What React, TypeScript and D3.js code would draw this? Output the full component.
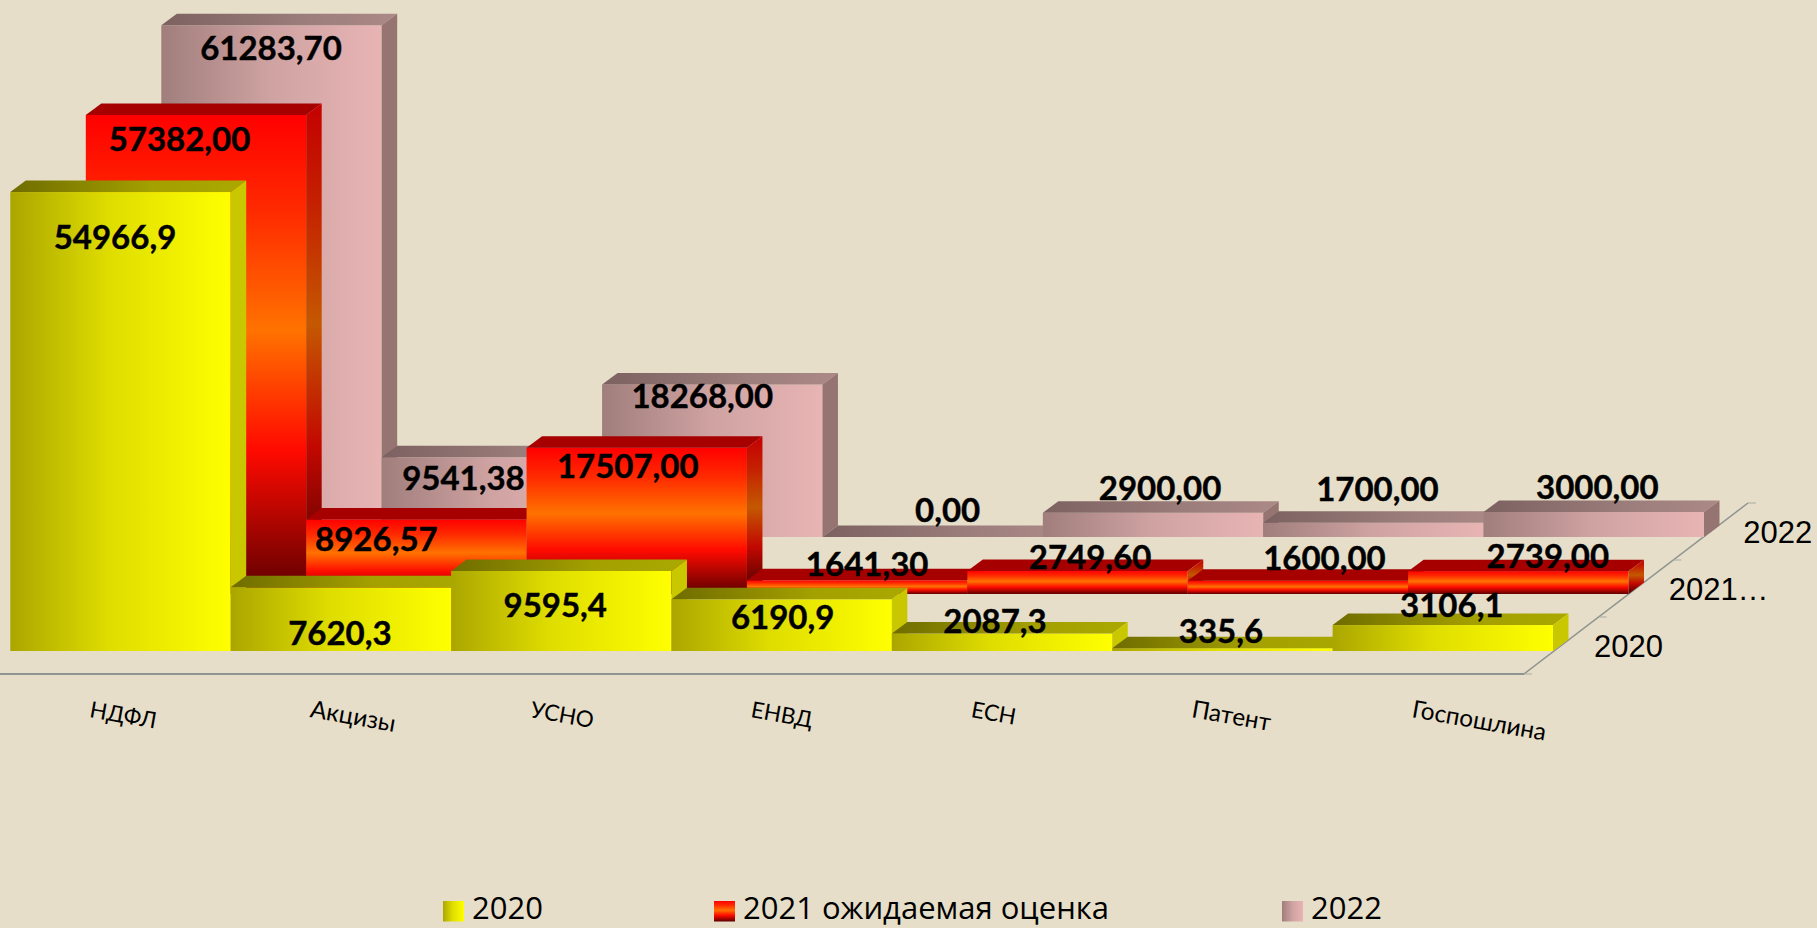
import React from 'react';
import * as d3 from 'd3';

const categories = ['НДФЛ', 'Акцизы', 'УСНО', 'ЕНВД', 'ЕСН', 'Патент', 'Госпошлина'];
const seriesNames = ['2020', '2021 ожидаемая оценка', '2022'];
const depthLabels = ['2020', '2021…', '2022'];

const values2020 = [54966.9, 7620.3, 9595.4, 6190.9, 2087.3, 335.6, 3106.1];
const values2021 = [57382, 8926.57, 17507, 1641.3, 2749.6, 1600, 2739];
const values2022 = [61283.7, 9541.38, 18268, 0, 2900, 1700, 3000];

const text2020 = ['54966,9', '7620,3', '9595,4', '6190,9', '2087,3', '335,6', '3106,1'];
const text2021 = ['57382,00', '8926,57', '17507,00', '1641,30', '2749,60', '1600,00', '2739,00'];
const text2022 = ['61283,70', '9541,38', '18268,00', '0,00', '2900,00', '1700,00', '3000,00'];

// hand placed data labels, excel puts them wherever it likes in 3d
const labelDx = [
  [-5.5, -1, -6, 1, -7, -1.5, 9],
  [-16.5, -40, -9, 10, 12.5, 26.5, 29.5],
  [-0.5, -28.4, -10, 15, 7, 4, 3.5],
];
const labelDy = [
  [57, 57.6, 46, 29.7, -1, -5, -7.6],
  [36, 32, 30, -3.8, -2, -10.6, -3],
  [35, 33, 23.5, -15, -13, -22, -13],
];

const W = 1817;
const H = 928;
const bg = '#e6dec8';
const axisColor = '#8f9391';
const calibri = 'Lato, Carlito, sans-serif';
const arial = '"Liberation Sans", Arial, sans-serif';

const x = d3.scaleBand<string>().domain(categories).range([10.3, 1553]);
const h = d3.scaleLinear().domain([0, 61283.7]).range([0, 511.7]);
const rowX = d3.scaleLinear().domain([0, 2]).range([0, 151]);
const rowBase = d3.scaleLinear().domain([0, 1, 2]).range([651, 594, 537]);
const axisX = d3.scaleLinear().domain([0, 3]).range([1524, 1748]);
const axisY = d3.scaleLinear().domain([0, 3]).range([674, 503]);

const DX = 15.5;
const DY = 11.5;

const rows = [
  { values: values2020, text: text2020, front: 'yFront', top: 'yTop', side: '#c9c800' },
  { values: values2021, text: text2021, front: 'rFront', top: '#a70000', side: 'rSide' },
  { values: values2022, text: text2022, front: 'pFront', top: 'pTop', side: '#967472' },
];

const paint = (c: string) => (c.startsWith('#') ? c : `url(#${c})`);

const poly = (pts: number[][]) => {
  const p = d3.path();
  pts.forEach(([a, b], i) => (i ? p.lineTo(a, b) : p.moveTo(a, b)));
  p.closePath();
  return p.toString();
};

const Hgrad = ({ id, stops }: { id: string; stops: [number, string][] }) => (
  <linearGradient id={id} x1="0" y1="0" x2="1" y2="0">
    {stops.map(([o, c]) => <stop key={o} offset={o} stopColor={c} />)}
  </linearGradient>
);

const Vgrad = ({ id, stops }: { id: string; stops: [number, string][] }) => (
  <linearGradient id={id} x1="0" y1="0" x2="0" y2="1">
    {stops.map(([o, c]) => <stop key={o} offset={o} stopColor={c} />)}
  </linearGradient>
);

const Bar = ({ row, i }: { row: number; i: number }) => {
  const r = rows[row];
  const x0 = x(categories[i])! + rowX(row);
  const x1 = x0 + x.bandwidth();
  const base = rowBase(row);
  const top = base - h(r.values[i]);
  return (
    <g>
      {r.values[i] > 0 && <rect x={x0} y={top} width={x1 - x0} height={base - top} fill={paint(r.front)} />}
      <path d={poly([[x0, top], [x0 + DX, top - DY], [x1 + DX, top - DY], [x1, top]])} fill={paint(r.top)} />
      <path d={poly([[x1, top], [x1 + DX, top - DY], [x1 + DX, base - DY], [x1, base]])} fill={paint(r.side)} />
    </g>
  );
};

export default function App() {
  return (
    <svg width={W} height={H} style={{ position: 'absolute', left: 0, top: 0, display: 'block', background: bg }}>
      <defs>
        <Hgrad id="yFront" stops={[[0, '#aba600'], [0.45, '#dfdd00'], [1, '#ffff00']]} />
        <Hgrad id="yTop" stops={[[0, '#6f6c00'], [0.6, '#a3a000'], [1, '#aaa800']]} />
        <Vgrad id="rFront" stops={[[0, '#ff0000'], [0.2, '#ff2a00'], [0.45, '#ff7200'], [0.7, '#ff0a00'], [1, '#5c0000']]} />
        <Vgrad id="rSide" stops={[[0, '#c40000'], [0.2, '#c42000'], [0.45, '#c45800'], [0.7, '#c20800'], [1, '#450000']]} />
        <Hgrad id="pFront" stops={[[0, '#a07e7c'], [0.5, '#cfa3a2'], [1, '#e8b4b4']]} />
        <Hgrad id="pTop" stops={[[0, '#7b6160'], [0.6, '#9b7d7b'], [1, '#ab8987']]} />
      </defs>

      {/* depth axis */}
      <line x1={0} x2={axisX(0)} y1={axisY(0)} y2={axisY(0)} stroke={axisColor} strokeWidth={2} />
      <line x1={axisX(0)} x2={axisX(3)} y1={axisY(0)} y2={axisY(3)} stroke={axisColor} strokeWidth={1.5} />
      {[0, 1, 2, 3].map((t) => (
        <line key={t} x1={axisX(t)} x2={axisX(t) + 8} y1={axisY(t)} y2={axisY(t)} stroke="#a9aba6" strokeWidth={1} />
      ))}

      {[2, 1, 0].map((row) => (
        <g key={row}>
          {categories.map((c, i) => <Bar key={c} row={row} i={i} />)}
        </g>
      ))}

      {[2, 1, 0].map((row) =>
        rows[row].text.map((t, i) => (
          <text
            key={row + t}
            x={x(categories[i])! + x.bandwidth() / 2 + rowX(row) + labelDx[row][i]}
            y={rowBase(row) - h(rows[row].values[i]) + labelDy[row][i]}
            textAnchor="middle"
            fontFamily={calibri}
            fontWeight={700}
            fontSize={33}
            fill="#000"
            stroke="#000"
            strokeWidth={0.4}
          >
            {t}
          </text>
        )),
      )}

      {categories.map((c) => (
        <text
          key={c}
          transform={`translate(${x(c)! + 78.5},717) rotate(10)`}
          fontFamily={calibri}
          fontSize={c === c.toUpperCase() ? 22.5 : 24.3}
          fill="#000"
        >
          {c}
        </text>
      ))}

      {depthLabels.map((t, i) => (
        <text
          key={t}
          x={axisX(i) + 70}
          y={axisY(i) - 17}
          fontFamily={arial}
          fontSize={31}
          fill="#000"
        >
          {t}
        </text>
      ))}

      {seriesNames.map((s, i) => {
        const lx = [443, 714, 1282][i];
        return (
          <g key={s}>
            <rect x={lx} y={901} width={21} height={20.5} fill={`url(#${['yFront', 'rFront', 'pFront'][i]})`} />
            <text x={lx + 29} y={918.8} fontFamily='"Open Sans", sans-serif' fontSize={31} fill="#000">{s}</text>
          </g>
        );
      })}
    </svg>
  );
}
